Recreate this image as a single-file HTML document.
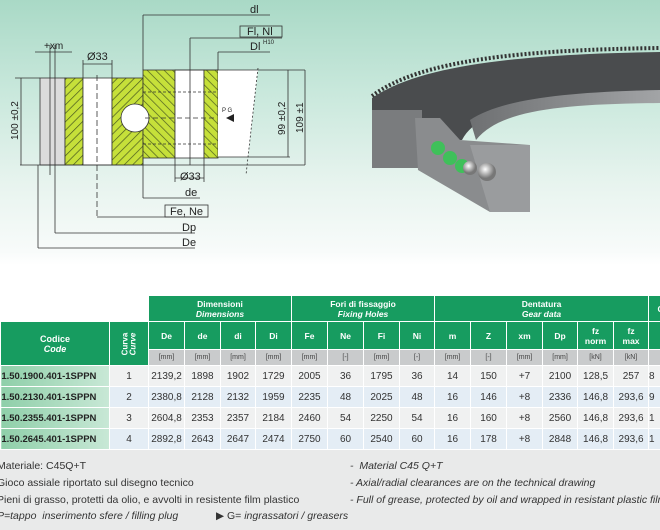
<!DOCTYPE html>
<html><head><meta charset="utf-8"><style>
*{margin:0;padding:0;box-sizing:border-box}
body{width:660px;height:530px;overflow:hidden;position:relative;background:#fff;font-family:"Liberation Sans",sans-serif}
#top{position:absolute;left:0;top:0;width:660px;height:265px;background:linear-gradient(#a9d9c6 0%,#c9e8dc 35%,#e8f4ef 70%,#f8fbfa 95%,#fff 100%)}
#bot{position:absolute;left:0;top:450px;width:660px;height:80px;background:#e9eaea}
table{position:absolute;left:0;top:295px;border-collapse:collapse;table-layout:fixed;width:672px}
td{border:1px solid #fff;text-align:center;font-size:9px;color:#333;padding:0;overflow:hidden;white-space:nowrap}
.g{background:#179c60;color:#fff;font-weight:bold;font-size:8.5px;line-height:10px}
.u{background:#c9cbcc;font-size:7px;color:#444;height:16px}
.e{background:transparent;border:none}
tr.r td{height:21px;font-size:10px}
tr.a td{background:#f0f1f1}
tr.b td{background:#e4edf5}
tr.r td.c{background:linear-gradient(90deg,#8fcfa9,#c8e8d6);font-weight:bold;font-size:9.5px;color:#222;text-align:left;text-indent:-6px}
.n{position:absolute;font-size:10.5px;color:#333}
.i{font-style:italic}
.rot{display:inline-block;transform:rotate(-90deg);font-size:8px;line-height:8px}
</style></head><body>
<div id="top"></div>
<div id="bot"></div>
<svg width="660" height="265" style="position:absolute;left:0;top:0">
<defs>
<pattern id="h" width="6" height="6" patternUnits="userSpaceOnUse" patternTransform="rotate(45)">
<rect width="6" height="6" fill="#c6e03a"/><line x1="0" y1="0" x2="0" y2="6" stroke="#4a5a20" stroke-width="1.4"/></pattern>
<pattern id="h2" width="6" height="6" patternUnits="userSpaceOnUse" patternTransform="rotate(-45)">
<rect width="6" height="6" fill="#c6e03a"/><line x1="0" y1="0" x2="0" y2="6" stroke="#4a5a20" stroke-width="1.4"/></pattern>
<radialGradient id="ball" cx="40%" cy="35%"><stop offset="0" stop-color="#fff"/><stop offset="1" stop-color="#777"/></radialGradient>
<linearGradient id="inner" x1="0" y1="0" x2="1" y2="0"><stop offset="0" stop-color="#6e7072"/><stop offset="1" stop-color="#a2a4a6"/></linearGradient>
</defs>
<g stroke="#333" stroke-width="0.8" fill="none">
<rect x="40" y="78" width="25" height="87" fill="#dcdcdc"/>
<rect x="65" y="78" width="18" height="87" fill="url(#h)"/>
<rect x="83" y="78" width="29" height="87" fill="#fff"/>
<rect x="112" y="78" width="31" height="87" fill="url(#h)"/>
<rect x="143" y="70" width="32" height="88" fill="url(#h2)"/>
<rect x="175" y="70" width="29" height="88" fill="#fff"/>
<rect x="204" y="70" width="14" height="88" fill="url(#h2)"/>
<polygon points="218,70 258,70 248,157 218,157" fill="#fff" stroke="none"/>
<circle cx="135" cy="118" r="14" fill="#fff"/>
<line x1="20" y1="165" x2="305" y2="165"/>
<line x1="175" y1="70" x2="305" y2="70"/>
<line x1="218" y1="157" x2="290" y2="157"/>
<line x1="21" y1="78" x2="21" y2="165"/><line x1="15" y1="78" x2="40" y2="78"/>
<line x1="288" y1="70" x2="288" y2="157"/><line x1="305" y1="70" x2="305" y2="165"/>
<line x1="258" y1="68" x2="246" y2="175" stroke-dasharray="2,2"/>
<line x1="143" y1="15" x2="270" y2="15"/><line x1="143" y1="15" x2="143" y2="70"/>
<line x1="190" y1="38" x2="282" y2="38"/><line x1="190" y1="38" x2="190" y2="165"/>
<rect x="240" y="26" width="42" height="11"/>
<line x1="218" y1="52" x2="270" y2="52"/><line x1="218" y1="52" x2="218" y2="70"/>
<line x1="143" y1="198" x2="200" y2="198"/><line x1="143" y1="158" x2="143" y2="198"/>
<line x1="175" y1="158" x2="175" y2="182"/><line x1="204" y1="158" x2="204" y2="182"/><line x1="175" y1="178" x2="204" y2="178"/>
<rect x="165" y="205" width="43" height="12"/>
<line x1="97" y1="217" x2="208" y2="217"/><line x1="97" y1="75" x2="97" y2="217" stroke-dasharray="6,3"/>
<line x1="55" y1="233" x2="195" y2="233"/><line x1="55" y1="45" x2="55" y2="233"/>
<line x1="38" y1="248" x2="195" y2="248"/><line x1="38" y1="165" x2="38" y2="248"/>
<line x1="50" y1="45" x2="50" y2="175"/><line x1="35" y1="52" x2="72" y2="52"/>
<line x1="83" y1="60" x2="83" y2="78"/><line x1="112" y1="60" x2="112" y2="78"/><line x1="83" y1="64" x2="112" y2="64"/>
<line x1="145" y1="118" x2="215" y2="118" stroke-dasharray="5,3"/>
<line x1="143" y1="92" x2="218" y2="92" stroke-dasharray="3,2"/><line x1="143" y1="144" x2="218" y2="144" stroke-dasharray="3,2"/>
</g>
<g font-family="Liberation Sans" font-size="11" fill="#222">
<text x="250" y="13">dl</text><text x="247" y="35">Fl, Nl</text><text x="250" y="50">Dl</text><text x="263" y="44" font-size="6">H10</text>
<text x="44" y="49" font-size="10">+xm</text><text x="87" y="60">Ø33</text><text x="180" y="180">Ø33</text>
<text x="185" y="196">de</text><text x="170" y="215">Fe, Ne</text><text x="182" y="231">Dp</text><text x="182" y="246">De</text>
<text x="222" y="112" font-size="6">P G</text>
<text transform="translate(18,140) rotate(-90)" font-size="10">100 ±0,2</text>
<text transform="translate(285,135) rotate(-90)" font-size="10">99 ±0,2</text>
<text transform="translate(303,133) rotate(-90)" font-size="10">109 ±1</text>
</g>
<polygon points="226,118 234,114 234,122" fill="#222"/>
<path d="M372,98 C420,65 520,54 660,52 L660,96 C560,96 480,104 462,140 L430,140 L372,112 Z" fill="#4a4c4e"/>
<path d="M372,96 C420,60 520,50 660,48" stroke="#333" stroke-width="4" fill="none" stroke-dasharray="2,2"/>
<path d="M470,120 C500,100 560,92 660,90 L660,103 C560,104 500,110 476,140 Z" fill="url(#inner)"/>
<rect x="372" y="110" width="50" height="58" fill="#7a7c7e"/>
<polygon points="415,118 440,118 460,140 530,145 528,212 490,212 418,170" fill="#8a8c8e"/>
<polygon points="470,145 530,145 530,212 490,212" fill="#9a9c9e"/>
<g fill="#3fc05a"><circle cx="438" cy="148" r="7"/><circle cx="450" cy="158" r="7"/><circle cx="462" cy="166" r="7"/></g>
<circle cx="487" cy="172" r="9" fill="url(#ball)"/>
<circle cx="470" cy="168" r="7" fill="url(#ball)"/>
</svg>
<table>
<colgroup><col style="width:109px"><col style="width:39px"><col style="width:36px"><col style="width:36px"><col style="width:35px"><col style="width:36px"><col style="width:36px"><col style="width:36px"><col style="width:36px"><col style="width:35px"><col style="width:36px"><col style="width:36px"><col style="width:36px"><col style="width:35px"><col style="width:36px"><col style="width:35px"><col style="width:24px"></colgroup>
<tr style="height:26px"><td class="e"></td><td class="e"></td><td class="g" colspan="4">Dimensioni<br><i>Dimensions</i></td><td class="g" colspan="4">Fori di fissaggio<br><i>Fixing Holes</i></td><td class="g" colspan="6">Dentatura<br><i>Gear data</i></td><td class="g">C</td></tr>
<tr style="height:28px"><td class="g" rowspan="2" style="font-size:9px">Codice<br><i>Code</i></td><td class="g" rowspan="2"><span class="rot">Curva<br><i>Curve</i></span></td><td class="g">De</td><td class="g">de</td><td class="g">di</td><td class="g">Di</td><td class="g">Fe</td><td class="g">Ne</td><td class="g">Fi</td><td class="g">Ni</td><td class="g">m</td><td class="g">Z</td><td class="g">xm</td><td class="g">Dp</td><td class="g">fz<br>norm</td><td class="g">fz<br>max</td><td class="g"></td></tr>
<tr><td class="u">[mm]</td><td class="u">[mm]</td><td class="u">[mm]</td><td class="u">[mm]</td><td class="u">[mm]</td><td class="u">[-]</td><td class="u">[mm]</td><td class="u">[-]</td><td class="u">[mm]</td><td class="u">[-]</td><td class="u">[mm]</td><td class="u">[mm]</td><td class="u">[kN]</td><td class="u">[kN]</td><td class="u">[</td></tr>
<tr class="r a"><td class="c">E1.50.1900.401-1SPPN</td><td>1</td><td>2139,2</td><td>1898</td><td>1902</td><td>1729</td><td>2005</td><td>36</td><td>1795</td><td>36</td><td>14</td><td>150</td><td>+7</td><td>2100</td><td>128,5</td><td>257</td><td style="text-align:left">8</td></tr>
<tr class="r b"><td class="c">E1.50.2130.401-1SPPN</td><td>2</td><td>2380,8</td><td>2128</td><td>2132</td><td>1959</td><td>2235</td><td>48</td><td>2025</td><td>48</td><td>16</td><td>146</td><td>+8</td><td>2336</td><td>146,8</td><td>293,6</td><td style="text-align:left">9</td></tr>
<tr class="r a"><td class="c">E1.50.2355.401-1SPPN</td><td>3</td><td>2604,8</td><td>2353</td><td>2357</td><td>2184</td><td>2460</td><td>54</td><td>2250</td><td>54</td><td>16</td><td>160</td><td>+8</td><td>2560</td><td>146,8</td><td>293,6</td><td style="text-align:left">1</td></tr>
<tr class="r b"><td class="c">E1.50.2645.401-1SPPN</td><td>4</td><td>2892,8</td><td>2643</td><td>2647</td><td>2474</td><td>2750</td><td>60</td><td>2540</td><td>60</td><td>16</td><td>178</td><td>+8</td><td>2848</td><td>146,8</td><td>293,6</td><td style="text-align:left">1</td></tr>
</table>
<div class="n" style="left:-3px;top:460px">Materiale: C45Q+T</div>
<div class="n" style="left:-3px;top:477px">Gioco assiale riportato sul disegno tecnico</div>
<div class="n" style="left:-3px;top:494px">Pieni di grasso, protetti da olio, e avvolti in resistente film plastico</div>
<div class="n i" style="left:-3px;top:510px">P=tappo&nbsp; inserimento sfere / filling plug</div>
<div class="n" style="left:216px;top:510px">▶ G= <i>ingrassatori / greasers</i></div>
<div class="n i" style="left:350px;top:460px">- &nbsp;Material C45 Q+T</div>
<div class="n i" style="left:350px;top:477px">- Axial/radial clearances are on the technical drawing</div>
<div class="n i" style="left:350px;top:494px;white-space:nowrap">- Full of grease, protected by oil and wrapped in resistant plastic film</div>
</body></html>
